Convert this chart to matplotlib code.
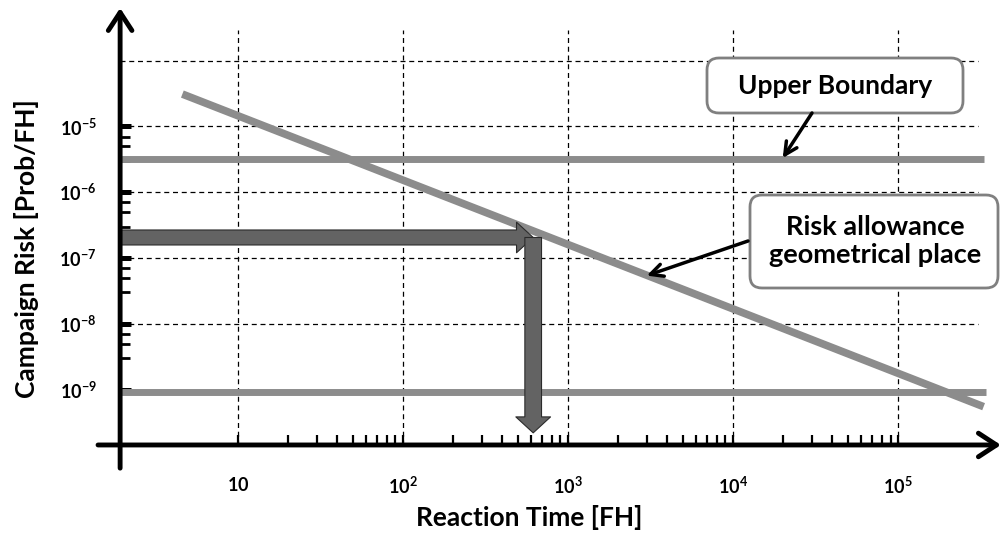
import matplotlib
matplotlib.use("Agg")
import matplotlib.pyplot as plt
from matplotlib.patches import FancyArrowPatch, FancyBboxPatch
from matplotlib.ticker import FixedLocator, FixedFormatter, NullFormatter

plt.rcParams["font.family"] = ["Lato", "DejaVu Sans"]
plt.rcParams["mathtext.fontset"] = "custom"
plt.rcParams["mathtext.rm"] = "Lato"
plt.rcParams["mathtext.bf"] = "Lato:bold"
plt.rcParams["mathtext.default"] = "bf"

# values
x_major = [10, 1e2, 1e3, 1e4, 1e5]
x_labels = ["$10$", "$10^{2}$", "$10^{3}$", "$10^{4}$", "$10^{5}$"]
x_minor = [m * d for d in (10, 1e2, 1e3, 1e4) for m in range(2, 10)]

y_major = [1e-5, 1e-6, 1e-7, 1e-8, 1e-9]
y_labels = ["$10^{-5}$", "$10^{-6}$", "$10^{-7}$", "$10^{-8}$", "$10^{-9}$"]
y_minor = [m * d for d in (1e-6, 1e-7, 1e-8, 1e-9) for m in (7, 5, 3)]

grid_x = [10, 1e2, 1e3, 1e4, 1e5]
grid_y = [1e-4, 1e-5, 1e-6, 1e-7, 1e-8]

risk_time = [4.6, 3.3e5]
risk_value = [3.1e-5, 5.5e-10]

upper_time = [1.93, 3.3e5]
upper_value = [3.2e-6, 3.2e-6]
lower_time = [1.93, 3.4e5]
lower_value = [9.2e-10, 9.2e-10]

lookup_risk = 2.05e-7
lookup_time = 615
lookup_floor = 2.2e-10

upper_note_at = (2.0e4, 3.3e-6)
risk_note_at = (3.0e3, 5.4e-8)

# layout
X_AXIS_Y = 1.44e-10   # where the time axis sits
Y_AXIS_X = 1.93       # where the risk axis sits
GRAY = "#8c8c8c"
ARROW = "#636363"

fig = plt.figure(figsize=(10.03, 5.36), dpi=100)
ax = fig.add_axes([0, 0, 1, 1])
ax.set_xscale("log")
ax.set_yscale("log")
ax.set_xlim(10 ** -0.4424, 10 ** 5.636)
ax.set_ylim(10 ** -11.225, 10 ** -3.079)

for s in ax.spines.values():
    s.set_visible(False)
ax.spines["left"].set_position(("data", Y_AXIS_X))
ax.spines["bottom"].set_position(("data", X_AXIS_Y))

ax.xaxis.set_major_locator(FixedLocator(x_major))
ax.xaxis.set_major_formatter(FixedFormatter(x_labels))
ax.xaxis.set_minor_locator(FixedLocator(x_minor))
ax.xaxis.set_minor_formatter(NullFormatter())
ax.yaxis.set_major_locator(FixedLocator(y_major))
ax.yaxis.set_major_formatter(FixedFormatter(y_labels))
ax.yaxis.set_minor_locator(FixedLocator(y_minor))
ax.yaxis.set_minor_formatter(NullFormatter())

ax.tick_params(axis="x", which="both", direction="in", length=7, width=1.6,
               pad=22, labelsize=13)
ax.tick_params(axis="y", which="major", direction="in", length=8, width=3.6,
               pad=17, labelsize=13)
ax.tick_params(axis="y", which="minor", direction="in", length=7, width=2)

# dashed grid
ax.vlines(grid_x, X_AXIS_Y, 2.9e-4, colors="black", linewidth=0.9,
          linestyles=(0, (4, 3)), zorder=1)
ax.hlines(grid_y, Y_AXIS_X, 3.05e5, colors="black", linewidth=0.9,
          linestyles=(0, (4, 3)), zorder=1)

# boundaries and risk allowance line
ax.plot(upper_time, upper_value, color=GRAY, lw=5, solid_capstyle="butt", zorder=2)
ax.plot(lower_time, lower_value, color=GRAY, lw=5, solid_capstyle="butt", zorder=2)
ax.plot(risk_time, risk_value, color=GRAY, lw=5.5, solid_capstyle="butt", zorder=2)

# lookup arrows
ax.add_patch(FancyArrowPatch(
    (Y_AXIS_X, lookup_risk), (lookup_time, lookup_risk),
    arrowstyle="simple,head_length=12,head_width=22,tail_width=10.8",
    mutation_scale=1, fc=ARROW, ec="#2b2b2b", lw=0.8,
    shrinkA=0, shrinkB=0, zorder=4))
ax.add_patch(FancyArrowPatch(
    (lookup_time, lookup_risk), (lookup_time, lookup_floor),
    arrowstyle="simple,head_length=11.5,head_width=25,tail_width=12",
    mutation_scale=1, fc=ARROW, ec="#2b2b2b", lw=0.8,
    shrinkA=0, shrinkB=0, zorder=5))

# axes with arrow heads
axis_arrow = dict(arrowstyle="->,head_length=1.3,head_width=0.85", lw=3.5,
                  color="black", shrinkA=0, shrinkB=0)
ax.annotate("", xy=(4.2e5, X_AXIS_Y), xytext=(1.418, X_AXIS_Y),
            arrowprops=axis_arrow, annotation_clip=False, zorder=6)
ax.annotate("", xy=(Y_AXIS_X, 6.3e-4), xytext=(Y_AXIS_X, 6.4e-11),
            arrowprops=axis_arrow, annotation_clip=False, zorder=6)

ax.set_xlabel("Reaction Time [FH]", fontsize=19, fontweight="bold", va="center")
ax.xaxis.set_label_coords(529 / 1003, 1 - 518 / 536)
ax.set_ylabel("Campaign Risk [Prob/FH]", fontsize=19, fontweight="bold", va="center")
ax.yaxis.set_label_coords(27 / 1003, 1 - 249 / 536)

# callouts (box positions in inches from the lower left corner)
inch = fig.dpi_scale_trans
note_arrow = dict(arrowstyle="->,head_length=0.9,head_width=0.45", lw=2.5,
                  color="black", shrinkA=0, shrinkB=0)

ax.add_patch(FancyBboxPatch((7.07, 4.23), 2.56, 0.55,
                            boxstyle="round,pad=0,rounding_size=0.12",
                            transform=inch, fc="white", ec="#808080", lw=2, zorder=7))
ax.text(8.35, 4.505, "Upper Boundary", transform=inch, ha="center", va="center",
        fontsize=19, fontweight="bold", zorder=8)
ax.annotate("", xy=upper_note_at, xytext=(8.12, 4.23), textcoords=inch,
            arrowprops=note_arrow, zorder=8)

ax.add_patch(FancyBboxPatch((7.50, 2.48), 2.48, 0.93,
                            boxstyle="round,pad=0,rounding_size=0.12",
                            transform=inch, fc="white", ec="#808080", lw=2, zorder=7))
ax.text(8.75, 2.95, "Risk allowance\ngeometrical place", transform=inch,
        ha="center", va="center", fontsize=19.5, fontweight="bold",
        linespacing=1.2, zorder=8)
ax.annotate("", xy=risk_note_at, xytext=(7.48, 2.95), textcoords=inch,
            arrowprops=note_arrow, zorder=8)

fig.savefig("out.png", dpi=100)
